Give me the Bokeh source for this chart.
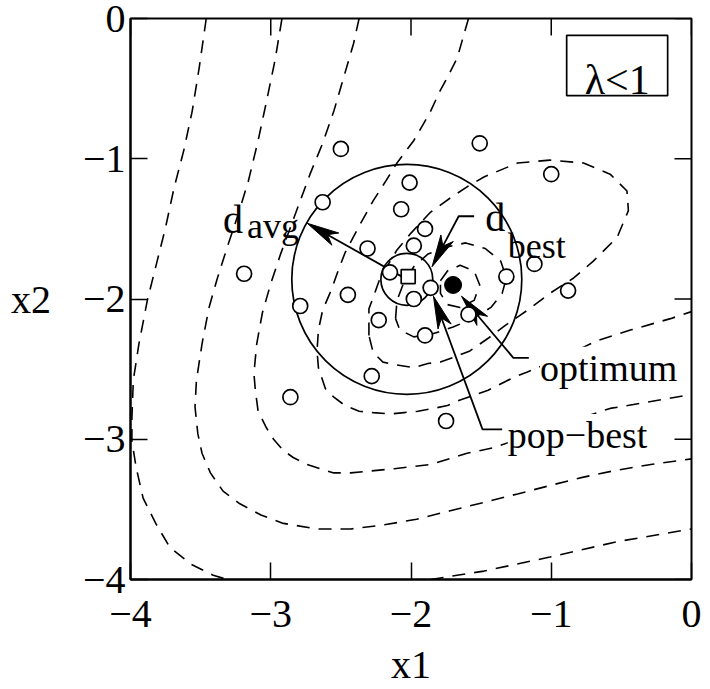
import numpy as np
from bokeh.plotting import figure
from bokeh.models import FixedTicker, Label
from bokeh.embed import file_html
from bokeh.resources import INLINE

# ---------------- data ----------------
tick_values = [-4, -3, -2, -1, 0]
tick_labels = ["−4", "−3", "−2", "−1", "0"]
x_label = "x1"
y_label = "x2"

# dashed contour lines (x1, x2)
contour_a_x = [-3.46, -3.51, -3.56, -3.62, -3.69, -3.75, -3.81, -3.88, -3.94, -3.98, -3.99, -3.99, -3.96, -3.91, -3.82, -3.72, -3.57, -3.41, -3.31]
contour_a_y = [0.0, -0.35, -0.66, -0.94, -1.21, -1.49, -1.73, -2.01, -2.32, -2.58, -2.85, -3.01, -3.20, -3.42, -3.60, -3.77, -3.89, -3.97, -4.0]

contour_b_x = [-2.92, -2.97, -3.03, -3.09, -3.16, -3.23, -3.31, -3.38, -3.44, -3.49, -3.53, -3.54, -3.52, -3.49, -3.43, -3.34, -3.22, -3.07, -2.91, -2.67, -2.43, -2.19, -1.96, -1.72, -1.48, -1.24, -1.01, -0.77, -0.53, -0.29, 0.0]
contour_b_y = [0.0, -0.30, -0.59, -0.87, -1.16, -1.39, -1.63, -1.85, -2.06, -2.32, -2.58, -2.77, -2.96, -3.10, -3.24, -3.37, -3.46, -3.54, -3.60, -3.64, -3.64, -3.61, -3.57, -3.51, -3.45, -3.39, -3.33, -3.27, -3.22, -3.18, -3.14]

contour_c_x = [-2.37, -2.41, -2.48, -2.55, -2.63, -2.72, -2.79, -2.86, -2.93, -3.00, -3.06, -3.10, -3.12, -3.11, -3.09, -3.03, -2.98, -2.91, -2.84, -2.74, -2.65, -2.55, -2.43, -2.12, -1.86, -1.60, -1.41, -1.01, -0.58, -0.34, 0.0]
contour_c_y = [0.0, -0.18, -0.42, -0.66, -0.89, -1.11, -1.30, -1.49, -1.68, -1.89, -2.10, -2.32, -2.53, -2.65, -2.80, -2.92, -3.00, -3.08, -3.13, -3.18, -3.21, -3.24, -3.24, -3.21, -3.18, -3.10, -3.06, -2.92, -2.78, -2.74, -2.68]

contour_d_x = [-1.59, -1.63, -1.67, -1.74, -1.79, -1.86, -1.91, -1.98, -2.10, -2.18, -2.27, -2.37, -2.47, -2.52, -2.57, -2.63, -2.66, -2.67, -2.66, -2.61, -2.55, -2.47, -2.37, -2.27, -2.15, -2.05, -1.95, -1.84, -1.74, -1.65, -1.45, -1.27, -1.17, -0.93, -0.68, -0.43, -0.15, 0.0]
contour_d_y = [0.0, -0.14, -0.28, -0.42, -0.51, -0.66, -0.75, -0.87, -1.03, -1.16, -1.30, -1.48, -1.67, -1.80, -1.94, -2.08, -2.22, -2.37, -2.49, -2.64, -2.70, -2.76, -2.80, -2.81, -2.82, -2.81, -2.80, -2.78, -2.76, -2.72, -2.65, -2.56, -2.52, -2.42, -2.30, -2.22, -2.14, -2.09]

contour_e_x = [-1.86, -1.48, -1.01, -0.53, 0.0]
contour_e_y = [-4.0, -3.94, -3.84, -3.73, -3.64]

contour_f_x = [-2.30, -2.30, -2.27, -2.22, -2.10, -2.00, -1.86, -1.72, -1.60, -1.48, -1.24, -1.01, -0.77, -0.58, -0.46, -0.45, -0.53, -0.70, -0.84, -1.01, -1.17, -1.33, -1.45, -1.58, -1.68, -1.79, -1.88, -1.98, -2.10, -2.20, -2.27, -2.30]
contour_f_y = [-2.26, -2.07, -1.99, -1.85, -1.65, -1.53, -1.38, -1.28, -1.20, -1.13, -1.03, -1.01, -1.03, -1.11, -1.23, -1.37, -1.56, -1.73, -1.85, -1.96, -2.08, -2.19, -2.28, -2.37, -2.41, -2.45, -2.46, -2.49, -2.47, -2.45, -2.38, -2.26]

contour_g_x = [-2.11, -2.10, -2.05, -1.98, -1.88, -1.75, -1.61, -1.47, -1.36, -1.32, -1.35, -1.43, -1.56, -1.70, -1.85, -1.98, -2.08, -2.11]
contour_g_y = [-2.14, -2.01, -1.88, -1.77, -1.68, -1.63, -1.60, -1.64, -1.73, -1.85, -1.96, -2.06, -2.14, -2.20, -2.25, -2.27, -2.22, -2.14]

contour_h_x = [-1.79, -1.74, -1.65, -1.55, -1.51, -1.55, -1.65, -1.74, -1.79, -1.79]
contour_h_y = [-1.87, -1.80, -1.76, -1.80, -1.90, -2.01, -2.06, -2.04, -1.96, -1.87]

# population (open circles)
pop_x = [-2.50, -1.51, -2.63, -2.01, -2.07, -1.00, -1.90, -2.31, -1.98, -2.15, -3.19, -1.32, -1.12, -1.98, -2.45, -2.79, -0.88, -1.59, -2.23, -1.90, -2.28, -2.86, -1.75]
pop_y = [-0.93, -0.89, -1.31, -1.17, -1.36, -1.11, -1.50, -1.64, -1.62, -1.81, -1.82, -1.84, -1.75, -2.00, -1.97, -2.05, -1.94, -2.11, -2.15, -2.26, -2.55, -2.70, -2.87]
pop_best_x = [-1.86]
pop_best_y = [-1.92]
optimum_x = [-1.70]
optimum_y = [-1.90]
mean_x = [-2.02]
mean_y = [-1.84]
circle_cx = [-2.03]
circle_cy = [-1.86]
r_avg = [0.82]
r_best = [0.185]

# arrow paths (start ... tip)
davg_x = [-2.03, -2.74]
davg_y = [-1.86, -1.46]
dbest_x = [-1.55, -1.66, -1.85]
dbest_y = [-1.41, -1.41, -1.77]
popbest_x = [-1.35, -1.49, -1.84]
popbest_y = [-2.93, -2.93, -1.98]
optimum_arrow_x = [-1.16, -1.27, -1.64]
optimum_arrow_y = [-2.42, -2.42, -1.98]

FONT = "Liberation Serif"
X0, X1, Y0, Y1 = -4, 0, -4, 0
TICK_LEN = 0.121   # inward tick length in data units (~17 px)

p = figure(width=710, height=689, x_range=(X0, X1), y_range=(Y0, Y1),
           output_backend="svg", toolbar_location=None,
           min_border_left=130, min_border_right=19, min_border_top=18, min_border_bottom=110,
           x_axis_label=x_label, y_axis_label=y_label)
p.grid.visible = False
p.outline_line_color = "black"
p.outline_line_width = 2
p.background_fill_color = "white"
p.border_fill_color = "white"

ticker = FixedTicker(ticks=tick_values)
overrides = {v: t for v, t in zip(tick_values, tick_labels)}

for ax in (p.xaxis[0], p.yaxis[0]):
    ax.ticker = ticker
    ax.axis_line_color = "black"
    ax.axis_line_width = 2
    ax.major_tick_in = 17
    ax.major_tick_out = 0
    ax.major_tick_line_width = 1.5
    ax.minor_tick_line_color = None
    ax.major_label_text_font = FONT
    ax.major_label_text_color = "black"
    ax.major_label_overrides = overrides
    ax.major_label_text_font_size = "40px"
    ax.axis_label_text_font = FONT
    ax.axis_label_text_font_size = "40px"
    ax.axis_label_text_font_style = "normal"
    ax.axis_label_text_color = "black"

p.xaxis[0].major_label_standoff = 21
p.xaxis[0].axis_label_standoff = 12
p.yaxis[0].major_label_standoff = 5
p.yaxis[0].axis_label_standoff = 29
p.yaxis[0].axis_label_orientation = "horizontal"

# mirrored inward ticks on the top and right edges
p.segment(x0=tick_values, y0=[Y1] * 5, x1=tick_values, y1=[Y1 - TICK_LEN] * 5,
          line_color="black", line_width=1.5)
p.segment(x0=[X1] * 5, y0=tick_values, x1=[X1 - TICK_LEN] * 5, y1=tick_values,
          line_color="black", line_width=1.5)

# contours
cx = [contour_a_x, contour_b_x, contour_c_x, contour_d_x, contour_e_x, contour_f_x, contour_g_x, contour_h_x]
cy = [contour_a_y, contour_b_y, contour_c_y, contour_d_y, contour_e_y, contour_f_y, contour_g_y, contour_h_y]
p.multi_line(cx, cy, line_color="black", line_width=1.6, line_dash="13 9")

# circles of radius d_avg and d_best
p.circle(circle_cx, circle_cy, radius=r_avg, fill_color=None, line_color="black", line_width=1.7)
p.circle(circle_cx, circle_cy, radius=r_best, fill_color=None, line_color="black", line_width=1.7)

# arrows
HEAD_L = 0.23
HEAD_W = 0.10
NOTCH = 0.72


def arrow(xs, ys):
    tx, ty = xs[-1], ys[-1]
    dx, dy = tx - xs[-2], ty - ys[-2]
    n = np.hypot(dx, dy)
    ux, uy = dx / n, dy / n
    px, py = -uy, ux
    bx, by = tx - HEAD_L * ux, ty - HEAD_L * uy
    hx = [tx, bx + HEAD_W / 2 * px, tx - NOTCH * HEAD_L * ux, bx - HEAD_W / 2 * px]
    hy = [ty, by + HEAD_W / 2 * py, ty - NOTCH * HEAD_L * uy, by - HEAD_W / 2 * py]
    sx = list(xs[:-1]) + [tx - NOTCH * HEAD_L * ux]
    sy = list(ys[:-1]) + [ty - NOTCH * HEAD_L * uy]
    p.line(sx, sy, line_color="black", line_width=1.8)
    p.patch(hx, hy, fill_color="black", line_color="black", line_width=1)


for xs, ys in [(davg_x, davg_y), (dbest_x, dbest_y), (popbest_x, popbest_y), (optimum_arrow_x, optimum_arrow_y)]:
    arrow(xs, ys)

# population points
p.scatter(pop_x, pop_y, marker="circle", size=15, fill_color="white", line_color="black", line_width=1.7)
p.scatter(pop_best_x, pop_best_y, marker="circle", size=15, fill_color="white", line_color="black", line_width=1.7)
p.scatter(mean_x, mean_y, marker="square", size=14, fill_color="white", line_color="black", line_width=1.7)
p.scatter(optimum_x, optimum_y, marker="circle", size=17, fill_color="black", line_color="black")

# lambda box
p.quad(left=[-0.89], right=[-0.17], top=[-0.12], bottom=[-0.55], fill_color="white",
       line_color="black", line_width=1.7)


def lab(x, y, text, size, align="left", bg=None):
    L = Label(x=x, y=y, text=text, text_font=FONT, text_font_size=size, text_color="black",
              text_align=align, text_baseline="alphabetic")
    if bg:
        L.background_fill_color = bg
    p.add_layout(L)


lab(-0.53, -0.44, "λ<1", "42px", align="center")
lab(-3.34, -1.43, "d", "40px")
lab(-3.17, -1.48, "avg", "36px")
lab(-1.47, -1.42, "d", "40px")
lab(-1.31, -1.62, "best", "36px")
lab(-1.08, -2.49, "optimum", "38px", bg="white")
lab(-1.31, -2.97, "pop−best", "38px", bg="white")

open("out.html", "w").write(file_html(p, INLINE))
